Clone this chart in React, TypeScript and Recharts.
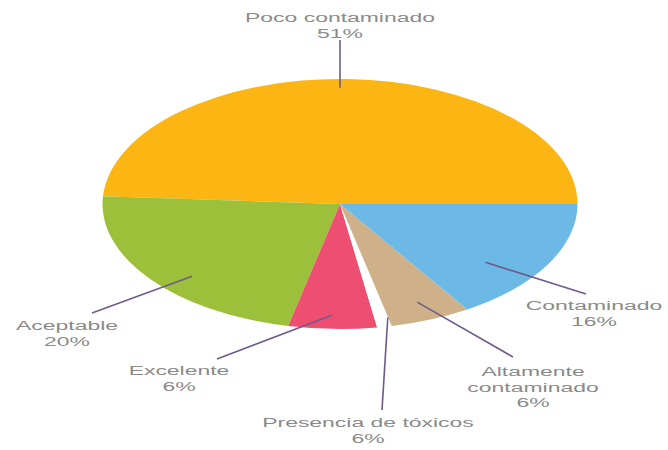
import React from "react";
import { PieChart, Pie, Cell } from "recharts";

// categories, in drawing order (counter-clockwise from 3 o'clock)
const NAMES = ["Poco contaminado", "Aceptable", "Excelente", "Presencia de tóxicos", "Altamente contaminado", "Contaminado"];
// share of the pie as drawn in the picture
const VALUES = [49, 22.5, 6, 1, 5.5, 16];
// percentages printed in the labels
const PCT_LABELS = ["51%", "20%", "6%", "6%", "6%", "16%"];
const COLORS = ["#fbb614", "#9dc03b", "#ee4f70", "#ffffff", "#cfb189", "#6cb9e6"];

const data = NAMES.map((name, i) => ({ name, value: VALUES[i], pct: PCT_LABELS[i] }));

// the picture is stretched horizontally
const SX = 1.9;
const TEXT_SX = 1.7;
const RAD = Math.PI / 180;

// label placement: text centre x, first baseline y, line end, start radius fraction + angle tweak
const LABEL_LAYOUT = [
    { x: 340, y: 22, ex: 340, ey: 40, f: 0.93, da: 1.8, wrap: false },
    { x: 67, y: 330, ex: 92, ey: 313, f: 0.85, da: 6, wrap: false },
    { x: 179, y: 375, ex: 217, ey: 359, f: 0.89, da: -0.4, wrap: false },
    { x: 368, y: 427, ex: 382, ey: 410, f: 0.93, da: 1.7, wrap: false },
    { x: 533, y: 376, ex: 513, ey: 357, f: 0.85, da: 0, wrap: true },
    { x: 594, y: 310, ex: 586, ey: 294, f: 0.77, da: -8.5, wrap: false },
];

const EllipseSector = (props: any) => {
    const { cx, cy, outerRadius, startAngle, endAngle, fill } = props;
    const rx = outerRadius * SX;
    const ry = outerRadius;
    const x1 = cx + rx * Math.cos(startAngle * RAD);
    const y1 = cy - ry * Math.sin(startAngle * RAD);
    const x2 = cx + rx * Math.cos(endAngle * RAD);
    const y2 = cy - ry * Math.sin(endAngle * RAD);
    const large = Math.abs(endAngle - startAngle) > 180 ? 1 : 0;
    const sweep = endAngle > startAngle ? 0 : 1;
    return (
        <path
            d={`M${cx},${cy} L${x1},${y1} A${rx},${ry} 0 ${large} ${sweep} ${x2},${y2} Z`}
            fill={fill}
            stroke="none"
        />
    );
};

const renderLabel = (props: any) => {
    const { cx, cy, midAngle, outerRadius, index } = props;
    const lay = LABEL_LAYOUT[index];
    const a = (midAngle + lay.da) * RAD;
    const sx = cx + outerRadius * SX * lay.f * Math.cos(a);
    const sy = cy - outerRadius * lay.f * Math.sin(a);
    const name = NAMES[index];
    const lines = lay.wrap ? [name.slice(0, name.indexOf(" ")), name.slice(name.indexOf(" ") + 1)] : [name];
    lines.push(PCT_LABELS[index]);
    return (
        <g key={`label-${index}`}>
            <line x1={sx} y1={sy} x2={lay.ex} y2={lay.ey} stroke="#6e5b8c" strokeWidth={1.6} />
            {lines.map((t, i) => (
                <text
                    key={i}
                    x={0}
                    y={0}
                    transform={`translate(${lay.x},${lay.y + i * 15.5}) scale(${TEXT_SX},1)`}
                    textAnchor="middle"
                    fontFamily="'Liberation Sans', Arial, sans-serif"
                    fontSize={13.5}
                    fill="#8a8a8a"
                >
                    {t}
                </text>
            ))}
        </g>
    );
};

export default function App() {
    return (
        <div style={{ position: "absolute", left: 0, top: 0, width: 668, height: 450, background: "#fff" }}>
            <PieChart width={668} height={450} margin={{ top: 0, right: 0, bottom: 0, left: 0 }}>
                <Pie
                    data={data}
                    dataKey="value"
                    cx={340}
                    cy={204}
                    outerRadius={125}
                    startAngle={0}
                    endAngle={360}
                    stroke="none"
                    shape={EllipseSector}
                    label={renderLabel}
                    labelLine={false}
                    isAnimationActive={false}
                >
                    {data.map((entry, index) => (
                        <Cell key={`cell-${index}`} fill={COLORS[index]} />
                    ))}
                </Pie>
            </PieChart>
        </div>
    );
}
